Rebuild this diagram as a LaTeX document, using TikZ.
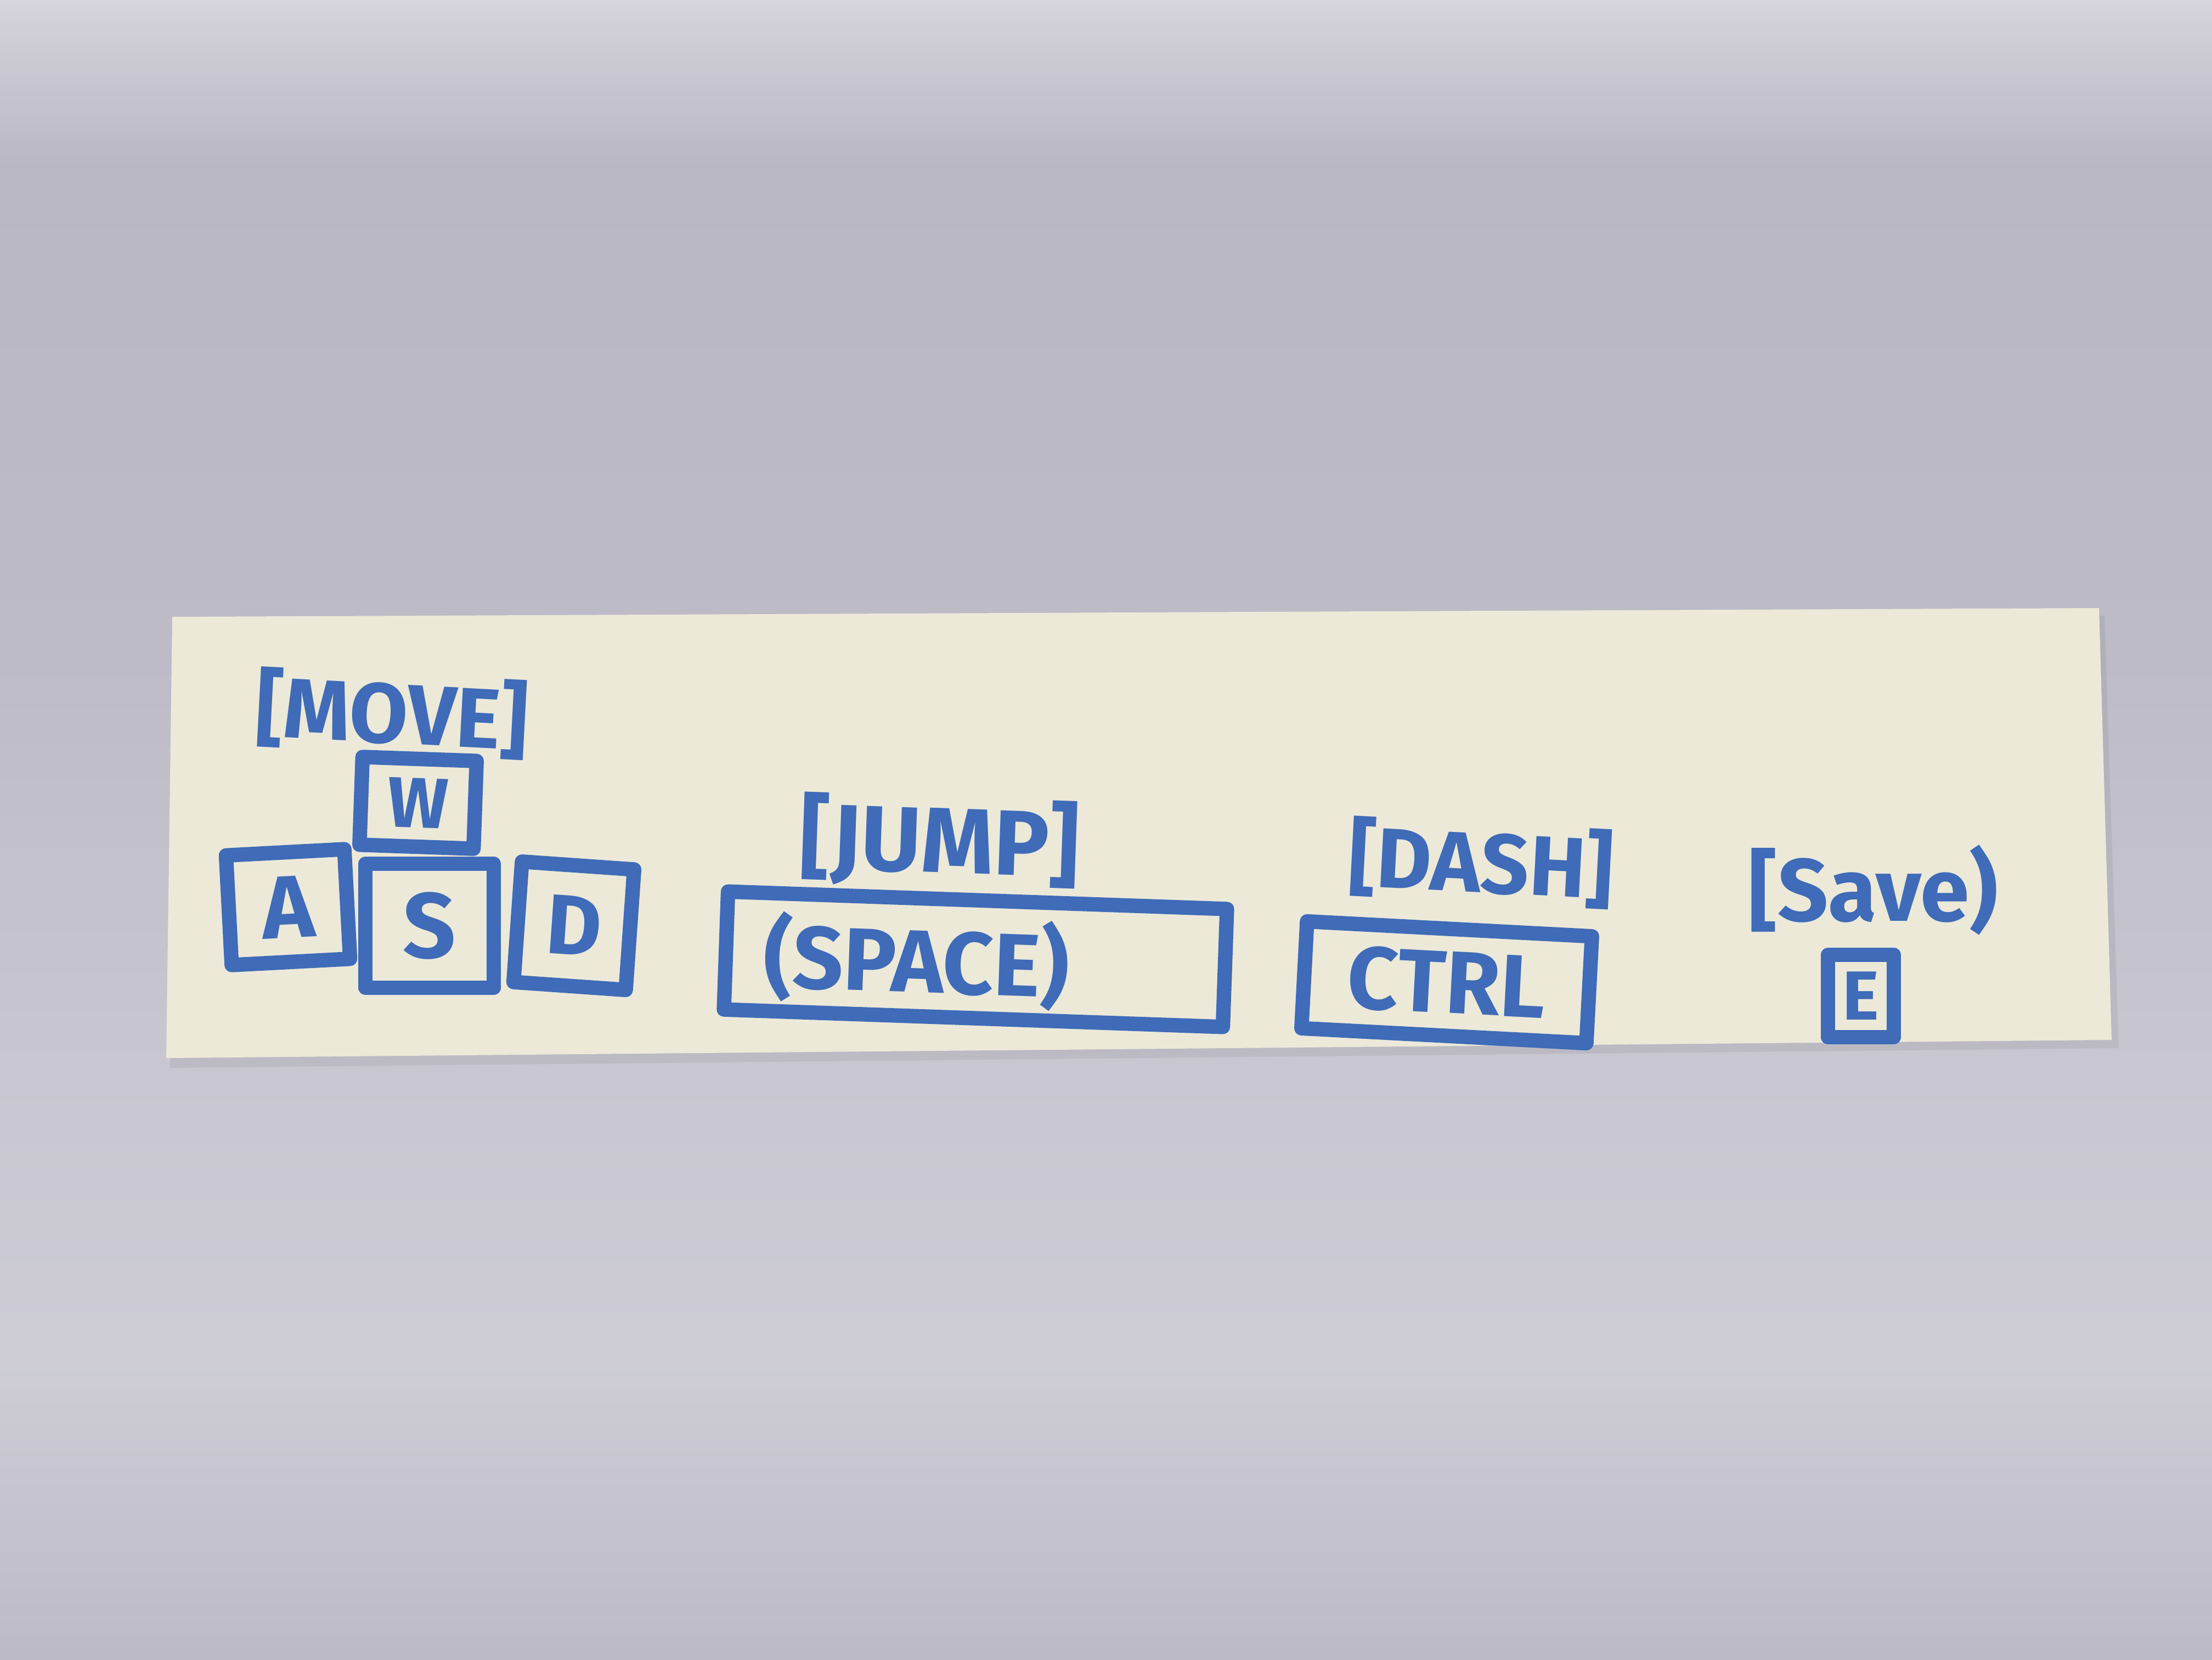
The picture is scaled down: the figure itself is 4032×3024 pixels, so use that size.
\documentclass[tikz,border=0pt]{standalone}
\usepackage{fontspec}
\setmainfont{Fira Sans}
\definecolor{ink}{HTML}{3F6BB8}
\definecolor{paper}{HTML}{ECE9D9}
\definecolor{bgtop}{HTML}{D6D5DD}
\definecolor{bgdark}{HTML}{B8B7C3}
\definecolor{bgmid}{HTML}{C8C7D1}
\definecolor{bglow}{HTML}{BBBAC6}
\newcommand\myfs[1]{\fontsize{#1}{#1}\selectfont}
\begin{document}
\begin{tikzpicture}[x=0.1mm,y=-0.1mm,
  keybox/.style={draw=ink, line width=7.5pt, line join=round, line cap=round, inner sep=0pt, text=ink, font=\bfseries},
  lbl/.style={text=ink, font=\bfseries, inner sep=0pt}]
\useasboundingbox (0,0) rectangle (4032,3024);
% background photo surface
\fill[bgdark!70!bgmid] (0,0) rectangle (4032,3024);
\shade[top color=bgtop, bottom color=bgdark] (0,0) rectangle (4032,300);
\shade[top color=bgdark, bottom color=bgdark!75!bgmid] (0,300) rectangle (4032,1200);
\shade[top color=bgdark!75!bgmid, bottom color=bgmid] (0,1200) rectangle (4032,1950);
\shade[top color=bgmid, bottom color=bgmid!90!white] (0,1950) rectangle (4032,2500);
\shade[top color=bgmid!90!white, bottom color=bglow] (0,2500) rectangle (4032,3024);
% paper strip
\fill[black, opacity=0.06] (320,1140) -- (3836,1122) -- (3862,1910) -- (310,1946) -- cycle;
\fill[paper] (314,1124) -- (3826,1108) -- (3849,1895) -- (303,1928) -- cycle;
% MOVE group
\node[lbl, rotate=-3] (move) at (715,1300) {\myfs{44}[MOVE]};
\node[keybox, minimum width=20.8mm, minimum height=16mm, rotate=-2] (w) at (762,1463) {\myfs{37}W};
\node[keybox, minimum width=21.6mm, minimum height=20mm, rotate=3] (a) at (525,1653) {\myfs{46}A};
\node[keybox, minimum width=23.4mm, minimum height=22.6mm] (s) at (783,1687) {\myfs{48}S};
\node[keybox, minimum width=20.5mm, minimum height=22mm, rotate=-4] (d) at (1046,1687) {\myfs{44}D};
% JUMP group
\node[lbl, rotate=-2] (jump) at (1713,1535) {\myfs{48}[JUMP]};
\node[keybox, minimum width=91mm, minimum height=21.5mm, rotate=-2] (space) at (1778,1748) {};
\node[lbl, rotate=-2] (spacetxt) at (1671,1752) {\myfs{46}(SPACE)};
% DASH group
\node[lbl, rotate=-3] (dash) at (2700,1572) {\myfs{44}[DASH]};
\node[keybox, minimum width=52mm, minimum height=19.5mm, rotate=-3] (ctrl) at (2637,1790) {\myfs{46}CTRL};
% SAVE group
\node[lbl] (save) at (3415,1622) {\myfs{46}[Save)};
\node[keybox, minimum width=12mm, minimum height=15mm] (e) at (3392,1815) {\myfs{36}E};
\end{tikzpicture}
\end{document}
